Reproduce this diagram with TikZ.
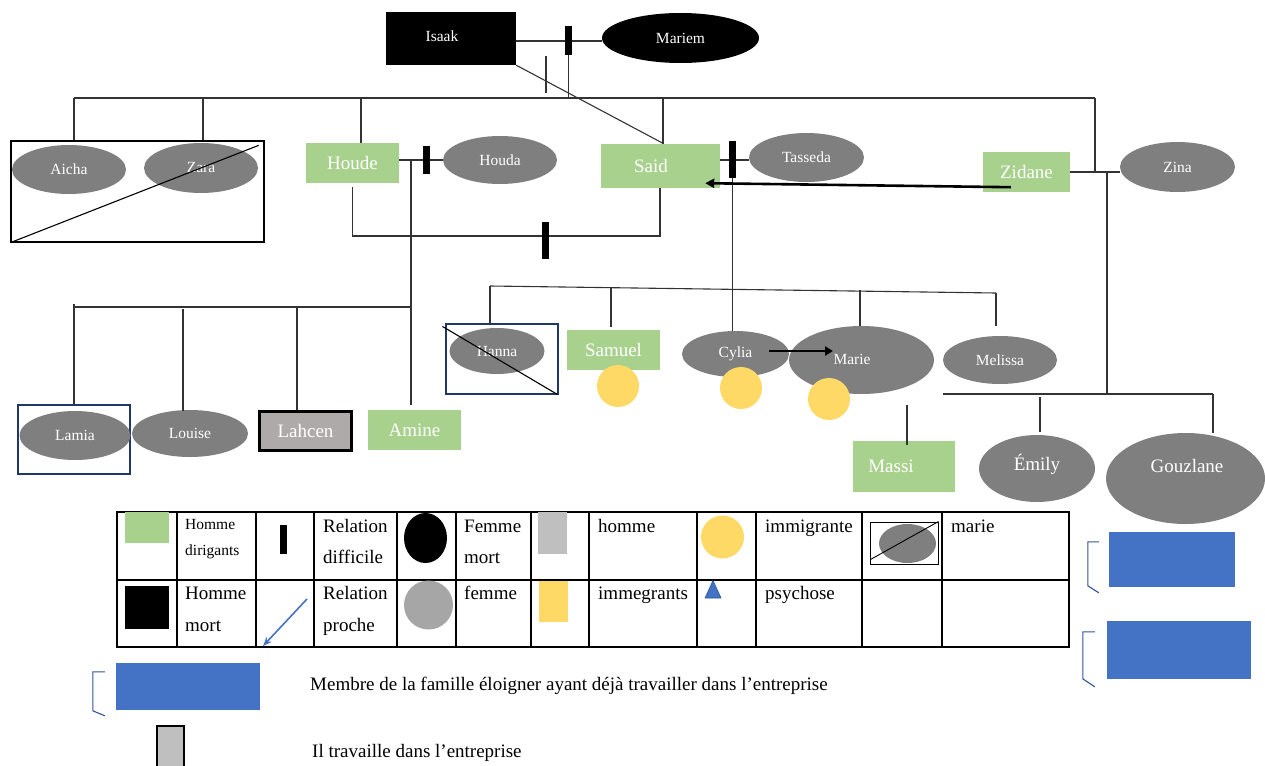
\documentclass[tikz,border=0pt]{standalone}
\usepackage{fontspec}
\setmainfont{Liberation Serif}
\usetikzlibrary{arrows.meta,shapes.geometric,calc}

\definecolor{persongray}{HTML}{7F7F7F}
\definecolor{leadgreen}{HTML}{A9D18E}
\definecolor{immyellow}{HTML}{FFD966}
\definecolor{workblue}{HTML}{4472C4}
\definecolor{bracketblue}{HTML}{2F5597}
\definecolor{framenavy}{HTML}{203864}
\definecolor{linegray}{HTML}{333333}
\definecolor{lahcengray}{HTML}{AEAAAA}
\definecolor{lightgray}{HTML}{BFBFBF}
\definecolor{midgray}{HTML}{A6A6A6}

\tikzset{
  fs/.style={font=\fontsize{#1}{#1}\selectfont},
  woman/.style={ellipse, fill=persongray, inner sep=0, text=white, fs=15.5},
  leaderbox/.style={rectangle, fill=leadgreen, inner sep=0, text=white, fs=19},
  namelabel/.style={inner sep=0, text=white, fs=#1},
  kin/.style={draw=linegray, line width=1.1pt},
  strainbar/.style={rectangle, fill=black, inner sep=0, minimum width=7, minimum height=#1},
  immdot/.style={circle, fill=immyellow, inner sep=0, minimum size=42},
  marframe/.style={rectangle, draw=framenavy, line width=1.1pt, inner sep=0},
  legtext/.style={anchor=base west, inner sep=0, text=black, fs=19},
  workbox/.style={rectangle, fill=workblue, inner sep=0},
  bracket/.style={draw=bracketblue, line width=1.1pt},
  pusharrow/.style={draw=black, line width=2.6pt, -{Triangle[length=9pt,width=9pt]}},
  gridline/.style={draw=black, line width=1.2pt},
}

\begin{document}
\begin{tikzpicture}[x=1pt,y=-1pt]
\useasboundingbox (0,0) rectangle (1265,765);

% ---------- first generation ----------
\node[rectangle, fill=black, inner sep=0, minimum width=130, minimum height=53] (isaak) at (451,38.5) {};
\node[namelabel=15.5] (isaak-name) at (442,36) {Isaak};
\node[ellipse, fill=black, inner sep=0, minimum width=157, minimum height=50, text=white, fs=15.5] (mariem) at (680.5,38) {Mariem};
\coordinate (im-left) at ($(isaak.east)+(0,2.5)$);
\draw[kin] (im-left) -- (mariem.west |- im-left);
\node[strainbar=29] (bar-im) at (568.5,40.5) {};

% sibling line of the second generation
\coordinate (sib-l) at (74,98);
\coordinate (sib-r) at (1095,98);
\coordinate (stray-t) at (546,56);
\coordinate (stray-b) at (546,93);
\draw[kin] (bar-im.south) -- (bar-im.south |- sib-l);
\draw[kin] (stray-t) -- (stray-b);
\draw[kin] (sib-l) -- (sib-r);

% ---------- second generation ----------
\node[woman, minimum width=114, minimum height=49] (aicha) at (69,169.5) {Aicha};
\node[woman, minimum width=114, minimum height=50] (zara) at (201,168) {Zara};
\node[rectangle, draw=black, line width=1.3pt, inner sep=0, minimum width=253, minimum height=101] (sisters) at (137.5,191.5) {};
\draw[kin, black] (sisters.south west) -- ($(sisters.north east)+(-6,5)$);
\coordinate (zara-drop) at (203,98);
\draw[kin] (sib-l) -- (sib-l |- sisters.north);
\draw[kin] (zara-drop) -- (zara-drop |- sisters.north);

\node[leaderbox, minimum width=93, minimum height=40] (houde) at (352.5,163) {Houde};
\node[woman, minimum width=114, minimum height=48] (houda) at (500,160) {Houda};
\coordinate (houde-drop) at (361,98);
\draw[kin] (houde-drop) -- (houde-drop |- houde.north);
\draw[kin] (houde.east |- houda.west) -- (houda.west);
\node[strainbar=28] (bar-hh) at (426.5,160) {};

\node[leaderbox, minimum width=119, minimum height=44] (said) at (660.5,166) {};
\node[namelabel=19] (said-name) at (651,166) {Said};
\node[woman, minimum width=115, minimum height=49] (tasseda) at (806.5,157.5) {Tasseda};
\coordinate (said-drop) at (663,98);
\draw[kin] (said-drop) -- (said-drop |- said.north);
\draw[kin] (isaak.south east) -- ($(said.north)+(1.5,-1)$);
\draw[kin] ($(said.east)+(0,-6)$) -- ($(tasseda.west)+(0,2.5)$);
\node[strainbar=37] (bar-st) at (732.5,159.5) {};

% Houde -- Said strained relation
\coordinate (hs-r) at (660,236);
\draw[kin] ($(houde.south)+(0,4)$) |- (hs-r) -- (said.south -| hs-r);
\node[strainbar=37] (bar-hs) at (545.5,240.5) {};

\node[leaderbox, minimum width=87, minimum height=40] (zidane) at (1026.5,172) {Zidane};
\node[woman, minimum width=115, minimum height=50] (zina) at (1177.5,167) {Zina};
\draw[kin] (zidane.east) -- (zidane.east -| zina.west);
\draw[kin] (sib-r) -- (sib-r |- zidane.east);

% ---------- Houde's children ----------
\coordinate (hc-l) at (74,307);
\coordinate (hc-r) at (411,307);
\coordinate (hh-drop) at (411,160);
\coordinate (louise-drop) at (183,309);
\coordinate (lahcen-drop) at (297,307);

\node[marframe, minimum width=112, minimum height=69] (lamiaframe) at (74,439.5) {};
\node[woman, minimum width=111, minimum height=49] (lamia) at (75,435.5) {Lamia};
\node[woman, minimum width=116, minimum height=47] (louise) at (190,433.5) {Louise};
\node[rectangle, fill=lahcengray, draw=black, line width=3pt, inner sep=0, minimum width=92, minimum height=39, text=white, fs=19] (lahcen) at (305.5,431) {Lahcen};
\node[leaderbox, minimum width=93, minimum height=40] (amine) at (414.5,430) {Amine};

\draw[kin] (hh-drop) -- ($(amine.north)+(-3.5,-5)$);
\draw[kin] (hc-l) -- (hc-r);
\draw[kin] ($(hc-l)+(0,-3)$) -- (hc-l |- lamiaframe.north);
\draw[kin] (louise-drop) -- ($(louise-drop |- louise.north)+(0,1)$);
\draw[kin] (lahcen-drop) -- (lahcen-drop |- lahcen.north);

% ---------- Said's children ----------
\coordinate (sc-1) at (490,286);
\coordinate (sc-2) at (611,287);
\coordinate (sc-5) at (996,293);
\coordinate (cylia-top) at (732.5,331);
\draw[kin] (sc-1) -- (sc-5);
\draw[kin] (bar-st.south) -- (bar-st.south |- cylia-top);

\node[marframe, minimum width=112, minimum height=70] (hannaframe) at (502,359) {};
\node[woman, minimum width=95, minimum height=46] (hanna) at (497,351) {Hanna};
\draw[kin, black] ($(hannaframe.north west)+(-3,3)$) -- ($(hannaframe.south east)+(-1,0)$);
\draw[kin] (sc-1) -- (sc-1 |- hannaframe.north);

\node[leaderbox, minimum width=93, minimum height=40] (samuel) at (613.5,350) {Samuel};
\draw[kin] (sc-2) -- ($(sc-2 |- samuel.north)+(0,-3)$);

\node[woman, minimum width=107, minimum height=46] (cylia) at (735.5,354) {Cylia};
\node[woman, minimum width=145, minimum height=68] (marie) at (861.5,360) {};
\draw[kin] ($(marie.north)+(-1.5,-36)$) -- ($(marie.north)+(-1.5,0)$);
\node[woman, minimum width=114, minimum height=48] (melissa) at (1000,360) {Melissa};
\draw[kin] (sc-5) -- ($(sc-5 |- melissa.north)+(0,-10)$);

\node[immdot] (samuel-imm) at (618,386) {};
\node[immdot] (cylia-imm) at (741,388) {};
\node[immdot] (marie-imm) at (829,399) {};
\node[namelabel=15.5] (marie-name) at (852,359) {Marie};
\draw[draw=black, line width=2.4pt, -{Triangle[length=8pt,width=9pt]}] ($(cylia.east)+(-20,-3)$) -- ($(marie.center)+(-28.5,-9)$);

% Zidane's closeness to Said
\draw[pusharrow] ($(zidane.south west)+(28,-5)$) -- ($(said.south east)+(-15,-5)$);

% ---------- Marie's and Zidane's line ----------
\node[leaderbox, minimum width=102, minimum height=51] (massi) at (904,466.5) {};
\node[namelabel=19] (massi-name) at (891,466) {Massi};
\draw[kin] ($(massi.north)+(3,-36)$) -- ($(massi.north)+(3,4)$);

\node[woman, minimum width=116, minimum height=67] (emily) at (1037,468.5) {};
\node[namelabel=19] (emily-name) at (1037,464) {Émily};
\node[woman, minimum width=159, minimum height=91] (gouzlane) at (1185.5,478.5) {};
\node[namelabel=19] (gouzlane-name) at (1187,466) {Gouzlane};

\coordinate (mc-l) at (943,394);
\coordinate (mc-r) at (1213,394);
\coordinate (zz-drop) at (1107,172);
\draw[kin] (mc-l) -- (mc-r);
\draw[kin] (zz-drop) -- (zz-drop |- mc-l);
\draw[kin] ($(emily.north)+(3,-38)$) -- ($(emily.north)+(3,-3)$);
\draw[kin] (mc-r) -- (mc-r |- gouzlane.north);

% ---------- family members who worked in the company ----------
\node[workbox, minimum width=126, minimum height=55] (work-a) at (1172,559.5) {};
\draw[bracket] ($(work-a.north west)+(-10,10)$) -- ++(-11,0) -- ++(0,44) -- ++(11,7);
\node[workbox, minimum width=144, minimum height=58] (work-b) at (1179,650) {};
\draw[bracket] ($(work-b.north west)+(-12,11)$) -- ++(-12,0) -- ++(0,47) -- ++(12,8);

% ---------- legend table ----------
\draw[gridline] (117,512) rectangle (1069,647);
\draw[gridline] (117,580) -- (1069,580);
\foreach \cx in {177,256,314,397,456,531,589,697,756,862,942}
  \draw[gridline] (\cx,512) -- (\cx,647);

\node[rectangle, fill=leadgreen, inner sep=0, minimum width=44, minimum height=31] (lg-lead) at (147,527.5) {};
\node[legtext, fs=15.5] (lg-lead-1) at (185,529) {Homme};
\node[legtext, fs=15.5] (lg-lead-2) at (185,555) {dirigants};
\node[strainbar=29] (lg-bar) at (283,539.5) {};
\node[legtext] (lg-diff-1) at (323,532) {Relation};
\node[legtext] (lg-diff-2) at (323,563) {difficile};
\node[ellipse, fill=black, inner sep=0, minimum width=43, minimum height=50] (lg-dead-w) at (425.5,538) {};
\node[legtext] (lg-deadw-1) at (464,532) {Femme};
\node[legtext] (lg-deadw-2) at (464,563) {mort};
\node[rectangle, fill=lightgray, inner sep=0, minimum width=29, minimum height=42] (lg-man) at (552.5,533) {};
\node[legtext] (lg-man-t) at (598,532) {homme};
\node[circle, fill=immyellow, inner sep=0, minimum size=43] (lg-imm) at (722.5,537) {};
\node[legtext] (lg-imm-t) at (765,532) {immigrante};
\node[ellipse, fill=persongray, inner sep=0, minimum width=57, minimum height=39] (lg-mar-e) at (907.5,543.5) {};
\node[rectangle, draw=black, line width=1pt, inner sep=0, minimum width=68, minimum height=42] (lg-mar) at (904,543) {};
\draw[draw=black, line width=0.9pt] ($(lg-mar.south west)+(1,-5)$) -- (lg-mar.north east);
\node[legtext] (lg-mar-t) at (951,532) {marie};

\node[rectangle, fill=black, inner sep=0, minimum width=44, minimum height=43] (lg-dead-m) at (147,607.5) {};
\node[legtext] (lg-deadm-1) at (185,599) {Homme};
\node[legtext] (lg-deadm-2) at (185,631) {mort};
\coordinate (lg-arr-s) at (307,599);
\coordinate (lg-arr-e) at (263,646);
\draw[draw=workblue, line width=1.6pt, -{Stealth[length=9pt,width=7pt]}] (lg-arr-s) -- (lg-arr-e);
\node[legtext] (lg-close-1) at (323,599) {Relation};
\node[legtext] (lg-close-2) at (323,631) {proche};
\node[circle, fill=midgray, inner sep=0, minimum size=49] (lg-woman) at (428.5,605) {};
\node[legtext] (lg-woman-t) at (464,599) {femme};
\node[rectangle, fill=immyellow, inner sep=0, minimum width=29, minimum height=41] (lg-immg) at (553.5,601.5) {};
\node[legtext] (lg-immg-t) at (598,599) {immegrants};
\fill[workblue, draw=bracketblue, line width=0.6pt] (713,580.5) -- (721,598) -- (705,598) -- cycle;
\node[legtext] (lg-psy-t) at (765,599) {psychose};

% ---------- notes below the table ----------
\node[workbox, minimum width=144, minimum height=47] (lg-work) at (188,686.5) {};
\draw[bracket] ($(lg-work.north west)+(-11,9)$) -- ++(-12,0) -- ++(0,39) -- ++(12,5);
\node[legtext] (lg-work-t) at (310,690) {Membre de la famille éloigner ayant déjà travailler dans l’entreprise};
\node[rectangle, fill=lightgray, draw=black, line width=2pt, inner sep=0, minimum width=27, minimum height=52] (lg-staff) at (170.5,752) {};
\node[legtext] (lg-staff-t) at (312,757) {Il travaille dans l’entreprise};
\end{tikzpicture}
\end{document}
